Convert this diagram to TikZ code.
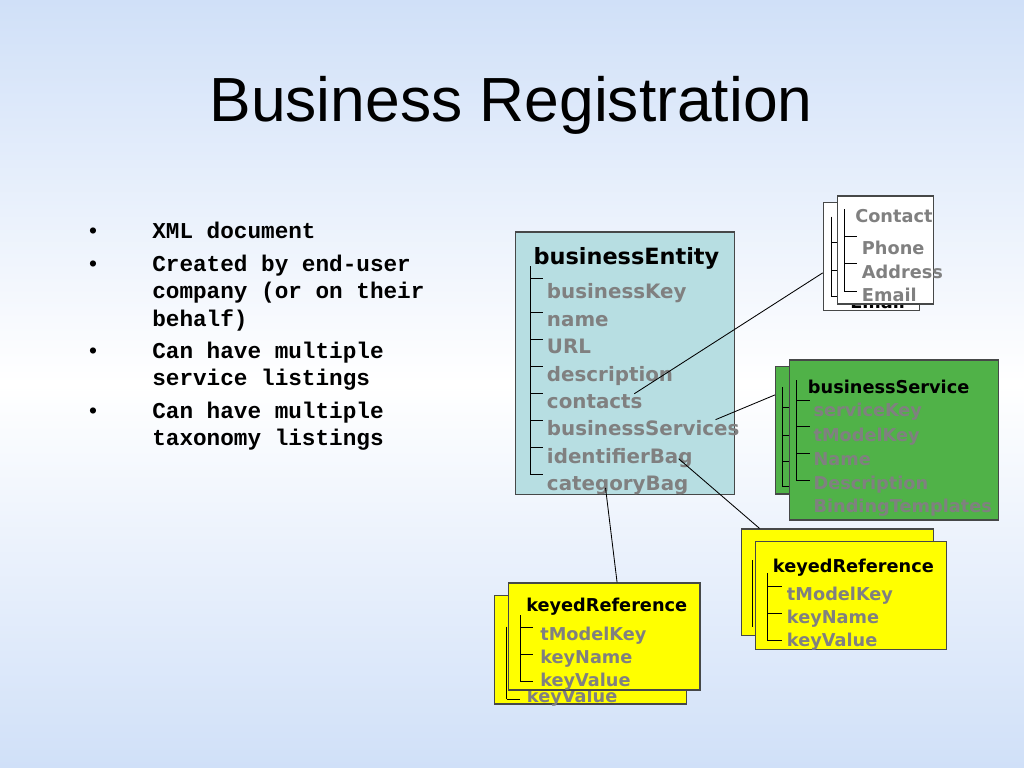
\documentclass[tikz,border=0pt]{standalone}
\usepackage{fontspec}
\setmainfont{Liberation Sans}
\newfontfamily\bulletfont{Liberation Mono}
\newfontfamily\boxfont{DejaVu Sans}
\usetikzlibrary{fit}
\usetikzlibrary{calc}

\definecolor{bgblue}{RGB}{208,224,248}
\definecolor{entityfill}{RGB}{183,222,226}
\definecolor{servicefill}{RGB}{80,178,72}
\definecolor{refyellow}{RGB}{255,255,0}
\definecolor{edgegray}{RGB}{70,72,72}
\definecolor{entrygray}{RGB}{128,128,128}

\tikzset{
  panel/.style={draw=edgegray, line width=0.8pt, inner sep=0pt},
  boxhead/.style={anchor=base west, inner sep=0pt, font=\boxfont\bfseries\fontsize{12.5}{15}\selectfont},
  boxitem/.style={boxhead, text=entrygray},
  bulletitem/.style={anchor=base west, inner sep=0pt, align=left, font=\bulletfont\bfseries\fontsize{16}{19.5}\selectfont},
  treeline/.style={line width=0.7pt},
  link/.style={line width=0.6pt},
}

\begin{document}
\begin{tikzpicture}[x=0.0248cm, y=-0.0248cm]
\useasboundingbox (0,0) rectangle (1024,768);
\shade[top color=bgblue, bottom color=bgblue, middle color=white] (0,0) rectangle (1024,768);

\node[font=\fontsize{44}{50}\selectfont, anchor=base] (title) at (511,122) {Business Registration};

% bullet list (multi-line items sit on the baseline of their last line)
\node[anchor=base, inner sep=0pt, font=\fontsize{16}{19.5}\selectfont] (dot1) at (93,238) {\textbullet};
\node[anchor=base, inner sep=0pt, font=\fontsize{16}{19.5}\selectfont] (dot2) at (93,271) {\textbullet};
\node[anchor=base, inner sep=0pt, font=\fontsize{16}{19.5}\selectfont] (dot3) at (93,358) {\textbullet};
\node[anchor=base, inner sep=0pt, font=\fontsize{16}{19.5}\selectfont] (dot4) at (93,418) {\textbullet};
\node[bulletitem] (xmldoc) at (152,238) {XML document};
\node[bulletitem] (created) at (152,326.4) {Created by end-user\\company (or on their\\behalf)};
\node[bulletitem] (services) at (152,385.7) {Can have multiple\\service listings};
\node[bulletitem] (taxonomy) at (152,445.7) {Can have multiple\\taxonomy listings};

% businessEntity
\node[panel, fill=entityfill, fit={(515.7,232) (734.7,494.7)}] (entity) {};
\draw[treeline] (530,266) -- (530,474);
\draw[treeline] (530,278) -- (543,278);
\draw[treeline] (530,312) -- (543,312);
\draw[treeline] (530,339) -- (543,339);
\draw[treeline] (530,366) -- (543,366);
\draw[treeline] (530,393) -- (543,393);
\draw[treeline] (530,420) -- (543,420);
\draw[treeline] (530,447) -- (543,447);
\draw[treeline] (530,474) -- (543,474);
\node[boxhead, font=\boxfont\bfseries\fontsize{15.8}{18}\selectfont] (entityhead) at (533.3,264) {businessEntity};
\node[boxitem, font=\boxfont\bfseries\fontsize{14}{17}\selectfont] (bkey) at (546.7,298) {businessKey};
\node[boxitem, font=\boxfont\bfseries\fontsize{14}{17}\selectfont] (bname) at (546.7,326) {name};
\node[boxitem, font=\boxfont\bfseries\fontsize{14}{17}\selectfont] (burl) at (546.7,353) {URL};
\node[boxitem, font=\boxfont\bfseries\fontsize{14}{17}\selectfont] (bdesc) at (546.7,381) {description};
\node[boxitem, font=\boxfont\bfseries\fontsize{14}{17}\selectfont] (contacts) at (546.7,408) {contacts};
\node[boxitem, font=\boxfont\bfseries\fontsize{14}{17}\selectfont] (bsvcs) at (546.7,435) {businessServices};
\node[boxitem, font=\boxfont\bfseries\fontsize{14}{17}\selectfont] (idbag) at (546.7,463) {identifierBag};
\node[boxitem, font=\boxfont\bfseries\fontsize{14}{17}\selectfont] (catbag) at (546.7,490) {categoryBag};

% Contact (back, front)
\node[panel, fill=white, fit={(823.3,202.7) (919.3,310.7)}] (contactback) {};
\draw[treeline] (831,216.7) -- (831,296.7);
\draw[treeline] (831,242.7) -- (837,242.7);
\draw[treeline] (831,270) -- (837,270);
\draw[treeline] (831,296.7) -- (837,296.7);
\node[boxhead] (backemail) at (850,308) {Email};
\node[panel, fill=white, fit={(837.3,196) (933.3,304)}] (contactfront) {};
\draw[treeline] (844,209) -- (844,291);
\draw[treeline] (844,236) -- (857.3,236);
\draw[treeline] (844,263.3) -- (857.3,263.3);
\draw[treeline] (844,291) -- (857.3,291);
\node[boxitem] (contacthead) at (855,222.3) {Contact};
\node[boxitem] (phone) at (861.7,254) {Phone};
\node[boxitem] (address) at (861.7,278.3) {Address};
\node[boxitem] (email) at (861.7,301) {Email};

% businessService (back, front)
\node[panel, fill=servicefill, fit={(775.5,366.7) (985,494)}] (svcback) {};
\draw[treeline] (782.7,387.3) -- (782.7,486.7);
\draw[treeline] (782.7,407.7) -- (789.3,407.7);
\draw[treeline] (782.7,435) -- (789.3,435);
\draw[treeline] (782.7,461) -- (789.3,461);
\draw[treeline] (782.7,486.7) -- (789.3,486.7);
\node[panel, fill=servicefill, fit={(789.3,360) (998.3,520)}] (svcfront) {};
\draw[treeline] (796,380) -- (796,480);
\draw[treeline] (796,400) -- (810,400);
\draw[treeline] (796,426.7) -- (810,426.7);
\draw[treeline] (796,453.3) -- (810,453.3);
\draw[treeline] (796,480) -- (810,480);
\node[boxhead] (svchead) at (807.7,393.3) {businessService};
\node[boxitem] (svckey) at (813.3,416.7) {serviceKey};
\node[boxitem] (svctmodel) at (813.3,441) {tModelKey};
\node[boxitem] (svcname) at (813.3,465) {Name};
\node[boxitem] (svcdesc) at (813.3,489.3) {Description};
\node[boxitem] (svcbind) at (813.3,512.7) {BindingTemplates};

% keyedReference, right (back, front)
\node[panel, fill=refyellow, fit={(741.7,529) (933.3,635.5)}] (rkeyback) {};
\draw[treeline] (752.5,560) -- (752.5,627);
\node[panel, fill=refyellow, fit={(755.5,541.7) (946.7,649.3)}] (rkeyfront) {};
\draw[treeline] (767.3,573.3) -- (767.3,640);
\draw[treeline] (767.3,586) -- (781.7,586);
\draw[treeline] (767.3,613.3) -- (781.7,613.3);
\draw[treeline] (767.3,640) -- (781.7,640);
\node[boxhead] (rkeyhead) at (772.7,572.3) {keyedReference};
\node[boxitem] (rtmodel) at (786.7,600) {tModelKey};
\node[boxitem] (rkeyname) at (786.7,623.3) {keyName};
\node[boxitem] (rkeyvalue) at (786.7,646.7) {keyValue};

% keyedReference, left (back, front)
\node[panel, fill=refyellow, fit={(494.5,595.5) (686.7,704)}] (lkeyback) {};
\draw[treeline] (506.5,626.7) -- (506.5,699);
\draw[treeline] (506.5,699) -- (520,699);
\node[boxitem] (lbackvalue) at (526.7,702) {keyValue};
\node[panel, fill=refyellow, fit={(508.5,583) (700,690)}] (lkeyfront) {};
\draw[treeline] (520.7,615) -- (520.7,681.7);
\draw[treeline] (520.7,627.3) -- (533.3,627.3);
\draw[treeline] (520.7,654) -- (533.3,654);
\draw[treeline] (520.7,681.7) -- (533.3,681.7);
\node[boxhead] (lkeyhead) at (526,611.7) {keyedReference};
\node[boxitem] (ltmodel) at (540,640) {tModelKey};
\node[boxitem] (lkeyname) at (540,663.3) {keyName};
\node[boxitem] (lkeyvalue) at (540,686.7) {keyValue};

% connectors
\draw[link] ([xshift=-6pt]contacts.north east) -- ([yshift=-11.4pt]contactback.west);
\draw[link] ([xshift=-17pt]bsvcs.north east) -- ([yshift=25pt]svcback.west);
\draw[link] ([xshift=-10pt,yshift=3pt]idbag.base east) -- ([xshift=13pt]rkeyback.north west);
\draw[link] ([xshift=41.5pt,yshift=1.5pt]catbag.base west) -- ([xshift=77pt]lkeyfront.north west);

\end{tikzpicture}
\end{document}
